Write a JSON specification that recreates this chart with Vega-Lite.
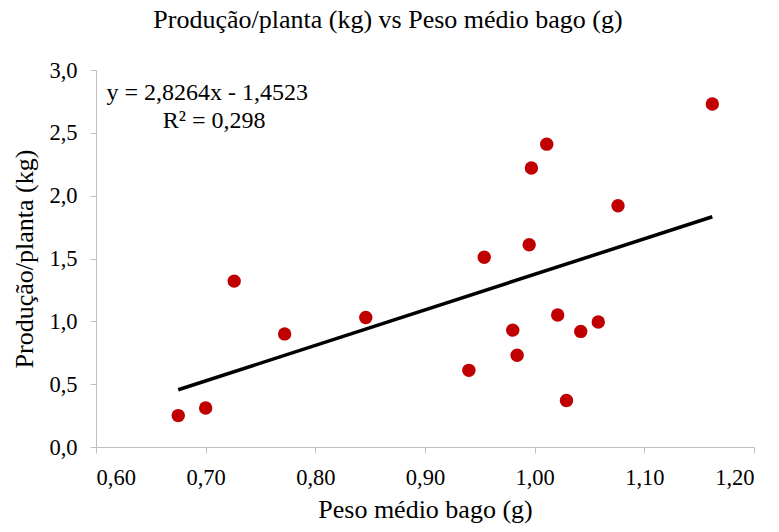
{
  "$schema": "https://vega.github.io/schema/vega-lite/v6.json",
  "autosize": "none",
  "width": 658,
  "height": 377,
  "padding": {"left": 96, "top": 70, "right": 25, "bottom": 85},
  "background": "white",
  "title": {
    "text": "Produção/planta (kg) vs Peso médio bago (g)",
    "font": "Liberation Serif",
    "fontSize": 26,
    "fontWeight": "normal",
    "color": "#000000",
    "anchor": "middle",
    "offset": 26,
    "dx": -37
  },
  "datasets": {
    "pts": [
      {"peso": 0.675, "prod": 0.25},
      {"peso": 0.700, "prod": 0.31},
      {"peso": 0.726, "prod": 1.32},
      {"peso": 0.772, "prod": 0.90},
      {"peso": 0.846, "prod": 1.03},
      {"peso": 0.940, "prod": 0.61},
      {"peso": 0.954, "prod": 1.51},
      {"peso": 0.980, "prod": 0.93},
      {"peso": 0.984, "prod": 0.73},
      {"peso": 0.995, "prod": 1.61},
      {"peso": 0.997, "prod": 2.22},
      {"peso": 1.011, "prod": 2.41},
      {"peso": 1.021, "prod": 1.05},
      {"peso": 1.029, "prod": 0.37},
      {"peso": 1.042, "prod": 0.92},
      {"peso": 1.058, "prod": 0.995},
      {"peso": 1.076, "prod": 1.92},
      {"peso": 1.162, "prod": 2.73}
    ],
    "trend": [
      {"peso": 0.675, "prod": 0.4555},
      {"peso": 1.162, "prod": 1.8320}
    ],
    "labels": [
      {"peso": 0.7015, "prod": 2.816, "txt": "y = 2,8264x - 1,4523"},
      {"peso": 0.7078, "prod": 2.593, "txt": "R² = 0,298"}
    ]
  },
  "encoding": {
    "x": {
      "field": "peso",
      "type": "quantitative",
      "scale": {"domain": [0.6, 1.2], "nice": false, "zero": false},
      "axis": {
        "title": "Peso médio bago (g)",
        "values": [0.6, 0.7, 0.8, 0.9, 1.0, 1.1, 1.2],
        "labelExpr": "replace(format(datum.value, '.2f'), '.', ',')",
        "grid": false,
        "domainColor": "#bfbfbf",
        "tickColor": "#bfbfbf",
        "tickSize": 6,
        "labelFont": "Liberation Serif",
        "labelFontSize": 22.5,
        "labelColor": "#000000",
        "labelPadding": 13,
        "titleFont": "Liberation Serif",
        "titleFontSize": 26,
        "titleFontWeight": "normal",
        "titleColor": "#000000",
        "titlePadding": 8
      }
    },
    "y": {
      "field": "prod",
      "type": "quantitative",
      "scale": {"domain": [0, 3], "nice": false},
      "axis": {
        "title": "Produção/planta (kg)",
        "values": [0, 0.5, 1, 1.5, 2, 2.5, 3],
        "labelExpr": "replace(format(datum.value, '.1f'), '.', ',')",
        "grid": false,
        "domainColor": "#bfbfbf",
        "tickColor": "#bfbfbf",
        "tickSize": 6,
        "labelFont": "Liberation Serif",
        "labelFontSize": 22.5,
        "labelColor": "#000000",
        "labelPadding": 13,
        "titleFont": "Liberation Serif",
        "titleFontSize": 26,
        "titleFontWeight": "normal",
        "titleColor": "#000000",
        "titlePadding": 11
      }
    }
  },
  "layer": [
    {
      "data": {"name": "trend"},
      "mark": {"type": "line", "color": "#000000", "strokeWidth": 3.5}
    },
    {
      "data": {"name": "pts"},
      "mark": {"type": "circle", "color": "#C00000", "opacity": 1, "size": 180}
    },
    {
      "data": {"name": "labels"},
      "mark": {"type": "text", "font": "Liberation Serif", "fontSize": 24, "color": "#000000", "align": "center", "baseline": "middle"},
      "encoding": {"text": {"field": "txt", "type": "nominal"}}
    }
  ],
  "config": {"view": {"stroke": null}}
}
